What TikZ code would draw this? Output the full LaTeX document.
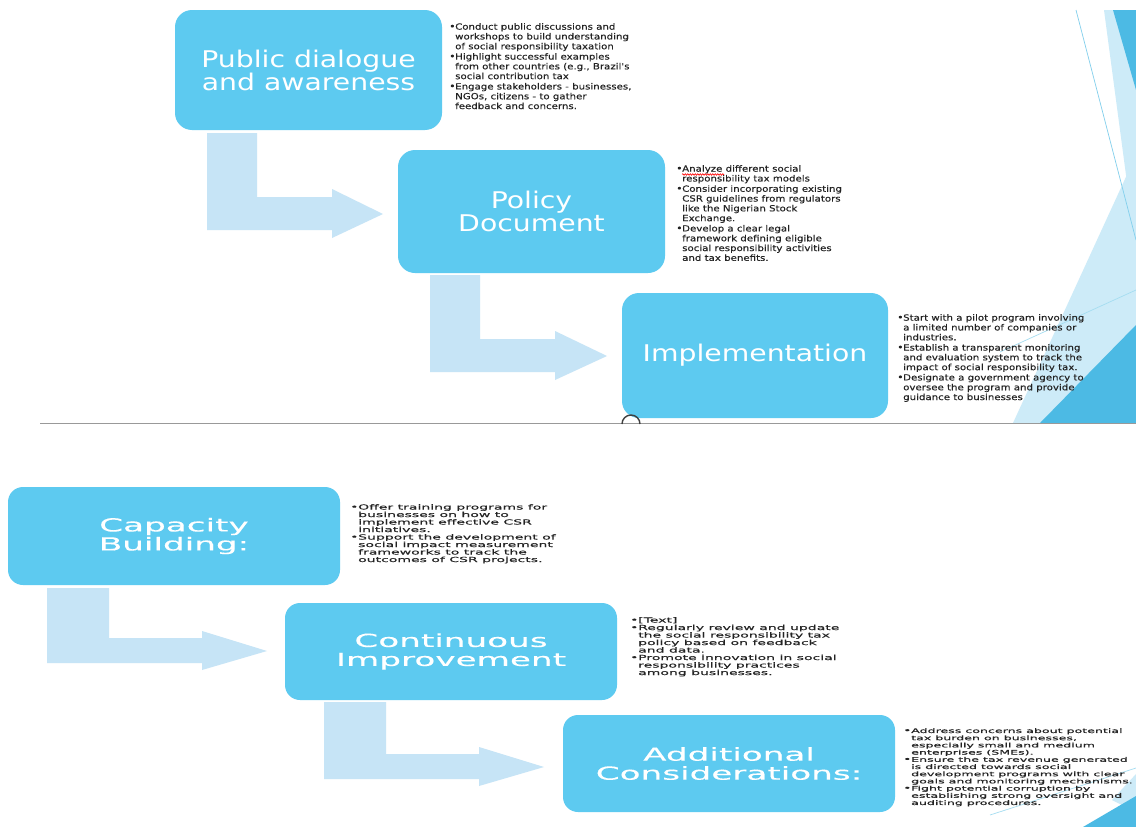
\documentclass[tikz,border=0pt]{standalone}
\usepackage{fontspec}
\setmainfont{DejaVu Sans}
\newfontfamily\toptitle[FakeStretch=1.23]{DejaVu Sans}
\newfontfamily\toplist[FakeStretch=1.2,FakeBold=0.3]{DejaVu Sans}
\newfontfamily\bottitle[FakeStretch=1.9,FakeBold=0.3]{DejaVu Sans}
\newfontfamily\botlist[FakeStretch=2.0,FakeBold=0.4]{DejaVu Sans}
\usetikzlibrary{decorations.pathmorphing}
\definecolor{boxblue}{RGB}{93,202,240}
\definecolor{arrowblue}{RGB}{198,228,246}
\definecolor{decdark}{RGB}{76,186,228}
\definecolor{declight}{RGB}{205,235,248}
\definecolor{txt}{RGB}{35,35,35}
\newcommand{\bl}{\makebox[6pt][l]{\raisebox{0.2pt}{\fontsize{9}{9}\selectfont\textbullet}}}
\newcommand{\ct}{\hspace*{6pt}}
\newcommand{\blb}{\makebox[8pt][l]{\raisebox{0.2pt}{\fontsize{7}{7}\selectfont\textbullet}}}
\newcommand{\ctb}{\hspace*{8pt}}
\begin{document}
\begin{tikzpicture}[x=1pt,y=-1pt,
  tbox/.style={fill=boxblue, draw=none, rounded corners=17pt, text=white, align=center, inner sep=0pt,
    font=\toptitle\fontsize{23}{23}\selectfont},
  bbox/.style={fill=boxblue, draw=none, rounded corners=15pt, text=white, align=center, inner sep=0pt,
    font=\bottitle\fontsize{18}{19}\selectfont},
  tlist/.style={anchor=north west, inner sep=0pt, align=left, text=txt,
    font=\toplist\fontsize{8.5}{9.8}\selectfont},
  blist/.style={anchor=north west, inner sep=0pt, align=left, text=txt,
    font=\botlist\fontsize{7}{7.5}\selectfont},
  barrow/.style={fill=arrowblue, draw=none}
]
\useasboundingbox (0,0) rectangle (1136,827);
\fill[white] (0,0) rectangle (1136,827);

% decorative shapes (top panel)
\fill[declight] (1104,10) -- (1136,10) -- (1136,250) -- cycle;
\fill[decdark] (1113,10) -- (1136,10) -- (1136,90) -- cycle;
\fill[declight] (1013,423) -- (1136,155) -- (1136,423) -- cycle;
\fill[decdark] (1040,423) -- (1136,325) -- (1136,423) -- cycle;
\draw[decdark!70, line width=0.7pt] (1076,10) -- (1136,240);
\draw[decdark!50, line width=0.7pt] (1000,352) -- (1136,290);
% decorative shapes (bottom panel)
\draw[decdark!50, line width=0.7pt] (990,815) -- (1136,768);
\fill[declight] (1112,800) -- (1136,774) -- (1136,812) -- cycle;
\fill[decdark] (1083,827) -- (1136,796) -- (1136,827) -- cycle;

% separator
\draw[gray!80, line width=0.8pt] (40,423.5) -- (1136,423.5);

% bent arrows
\fill[barrow] (207,133) -- (257,133) -- (257,197) -- (332,197) -- (332,189) -- (383,214)
  -- (332,238) -- (332,230) -- (207,230) -- cycle;
\fill[barrow] (430,275) -- (480,275) -- (480,339) -- (555,339) -- (555,331) -- (607,356)
  -- (555,380) -- (555,372) -- (430,372) -- cycle;
\fill[barrow] (47,588) -- (109,588) -- (109,638) -- (202,638) -- (202,631) -- (267,651)
  -- (202,670) -- (202,663) -- (47,663) -- cycle;
\fill[barrow] (324,702) -- (386,702) -- (386,754) -- (479,754) -- (479,747) -- (544,767)
  -- (479,786) -- (479,779) -- (324,779) -- cycle;

% boxes
\node[tbox, minimum width=267pt, minimum height=120pt] (b1) at (308.5,70) {Public dialogue\\and awareness};
\node[tbox, minimum width=267pt, minimum height=123pt] (b2) at (531.5,211.5) {Policy\\Document};
\node[tbox, minimum width=266pt, minimum height=125pt] (b3) at (755,355.5) {Implementation};
\node[bbox, minimum width=332pt, minimum height=98pt] (b4) at (174,536) {Capacity\\Building:};
\node[bbox, minimum width=332pt, minimum height=97pt] (b5) at (451,651.5) {Continuous\\Improvement};
\node[bbox, minimum width=332pt, minimum height=97pt] (b6) at (729,763.5) {Additional\\Considerations:};

% handle on separator
\draw[black!75, line width=1.4pt] (622,424) arc[start angle=180, end angle=360, radius=9];

% bullet lists
\node[tlist] (t1) at (449,23) {\bl Conduct public discussions and\\
\ct workshops to build understanding\\
\ct of social responsibility taxation\\[0.5pt]
\bl Highlight successful examples\\
\ct from other countries (e.g., Brazil's\\
\ct social contribution tax\\[0.5pt]
\bl Engage stakeholders - businesses,\\
\ct NGOs, citizens - to gather\\
\ct feedback and concerns.};

\node[tlist] (t2) at (676,165) {\bl Analyze different social\\
\ct responsibility tax models\\[0.5pt]
\bl Consider incorporating existing\\
\ct CSR guidelines from regulators\\
\ct like the Nigerian Stock\\
\ct Exchange.\\[0.5pt]
\bl Develop a clear legal\\
\ct framework defining eligible\\
\ct social responsibility activities\\
\ct and tax benefits.};
\draw[red, line width=0.6pt, decorate, decoration={snake, amplitude=0.8pt, segment length=2.5pt}]
  (682,174.5) -- (724,174.5);

\node[tlist] (t3) at (897,314) {\bl Start with a pilot program involving\\
\ct a limited number of companies or\\
\ct industries.\\[0.5pt]
\bl Establish a transparent monitoring\\
\ct and evaluation system to track the\\
\ct impact of social responsibility tax.\\[0.5pt]
\bl Designate a government agency to\\
\ct oversee the program and provide\\
\ct guidance to businesses};

\node[blist] (t4) at (350,504) {\blb Offer training programs for\\
\ctb businesses on how to\\
\ctb implement effective CSR\\
\ctb initiatives.\\
\blb Support the development of\\
\ctb social impact measurement\\
\ctb frameworks to track the\\
\ctb outcomes of CSR projects.};

\node[blist] (t5) at (630,617) {\blb [Text]\\
\blb Regularly review and update\\
\ctb the social responsibility tax\\
\ctb policy based on feedback\\
\ctb and data.\\
\blb Promote innovation in social\\
\ctb responsibility practices\\
\ctb among businesses.};

\node[blist, font=\botlist\fontsize{6.3}{7.2}\selectfont] (t6) at (903,728) {\blb Address concerns about potential\\
\ctb tax burden on businesses,\\
\ctb especially small and medium\\
\ctb enterprises (SMEs).\\
\blb Ensure the tax revenue generated\\
\ctb is directed towards social\\
\ctb development programs with clear\\
\ctb goals and monitoring mechanisms.\\
\blb Fight potential corruption by\\
\ctb establishing strong oversight and\\
\ctb auditing procedures.};
\end{tikzpicture}
\end{document}
